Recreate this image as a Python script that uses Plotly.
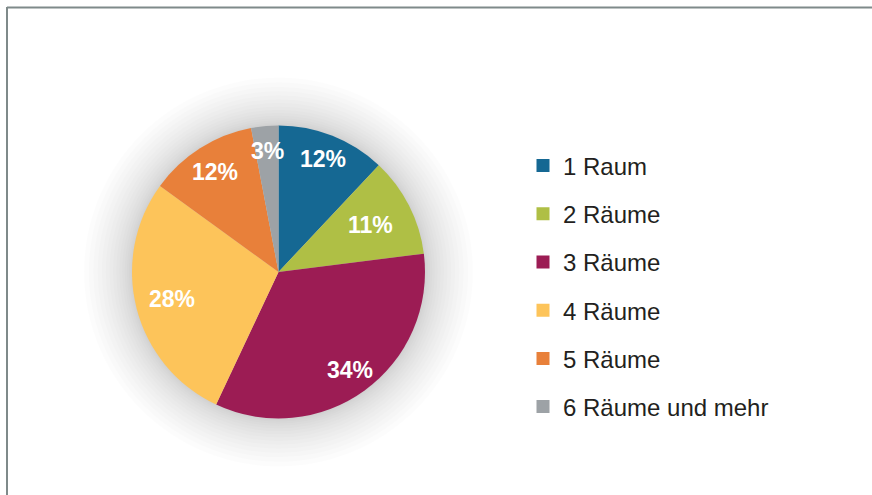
import math
import plotly.graph_objects as go

categories = ["1 Raum", "2 Räume", "3 Räume", "4 Räume", "5 Räume", "6 Räume und mehr"]
shares = [12, 11, 34, 28, 12, 3]
colors = ["#156893", "#afbf45", "#9c1c54", "#fdc45a", "#e8803a", "#9da2a6"]
# radial placement of each percentage label (fraction of radius), style only
label_radius_frac = [0.83, 0.706, 0.826, 0.75, 0.81, 0.833]

W, H = 872, 495
cx, cy, R = 278.5, 272.0, 146.5  # pie centre / radius in px

fig = go.Figure()
fig.add_trace(go.Pie(
    labels=categories, values=shares, sort=False, direction="clockwise", rotation=0,
    marker=dict(colors=colors, line=dict(width=0)),
    textinfo="none",
    domain=dict(x=[(cx - R) / W, (cx + R) / W], y=[(H - cy - R) / H, (H - cy + R) / H]),
    showlegend=False, hoverinfo="label+percent",
))

# legend entries
for c, col in zip(categories, colors):
    fig.add_trace(go.Scatter(x=[None], y=[None], mode="markers", name=c,
                             marker=dict(symbol="square", size=13, color=col),
                             legendgroup=c, showlegend=True))

# percentage labels placed at the middle angle of each slice
total = sum(shares)
annotations = []
cum = 0.0
for v, f in zip(shares, label_radius_frac):
    mid = (cum + v / 2) / total * 2 * math.pi
    cum += v
    px = cx + f * R * math.sin(mid)
    py = cy - f * R * math.cos(mid)
    annotations.append(dict(x=px / W, y=(H - py) / H, xref="paper", yref="paper",
                            text=f"{v}%", showarrow=False, xanchor="center", yanchor="middle",
                            font=dict(family="Liberation Sans, Arial", size=23, color="white", weight="bold")))

shapes = []
# soft glow/shadow around the pie
n = 16
for i in range(n, 0, -1):
    r = R + 48 * (i / n) ** 1.6
    shapes.append(dict(type="circle", xref="paper", yref="paper", layer="below",
                       x0=(cx - r) / W, x1=(cx + r) / W, y0=(H - cy - r) / H, y1=(H - cy + r) / H,
                       fillcolor="rgba(0,0,0,0.012)", line=dict(width=0)))
# frame lines
shapes.append(dict(type="line", xref="paper", yref="paper", x0=7 / W, x1=7 / W, y0=0, y1=(H - 7) / H,
                   line=dict(color="#7f8a8a", width=2)))
shapes.append(dict(type="line", xref="paper", yref="paper", x0=7 / W, x1=1, y0=(H - 7.5) / H, y1=(H - 7.5) / H,
                   line=dict(color="#7f8a8a", width=2)))

fig.update_layout(
    width=W, height=H, margin=dict(l=0, r=0, t=0, b=0),
    paper_bgcolor="white", plot_bgcolor="white",
    xaxis=dict(visible=False), yaxis=dict(visible=False),
    shapes=shapes, annotations=annotations,
    legend=dict(x=523 / W, xanchor="left", y=(H - 143.5) / H, yanchor="top",
                font=dict(family="Liberation Sans, Arial", size=24, color="#231f20"),
                tracegroupgap=14, itemsizing="trace", bgcolor="rgba(0,0,0,0)"),
)

fig.write_html("out.html", config={"displayModeBar": False},
               post_script="document.body.style.margin='0';document.body.style.overflow='hidden';")
